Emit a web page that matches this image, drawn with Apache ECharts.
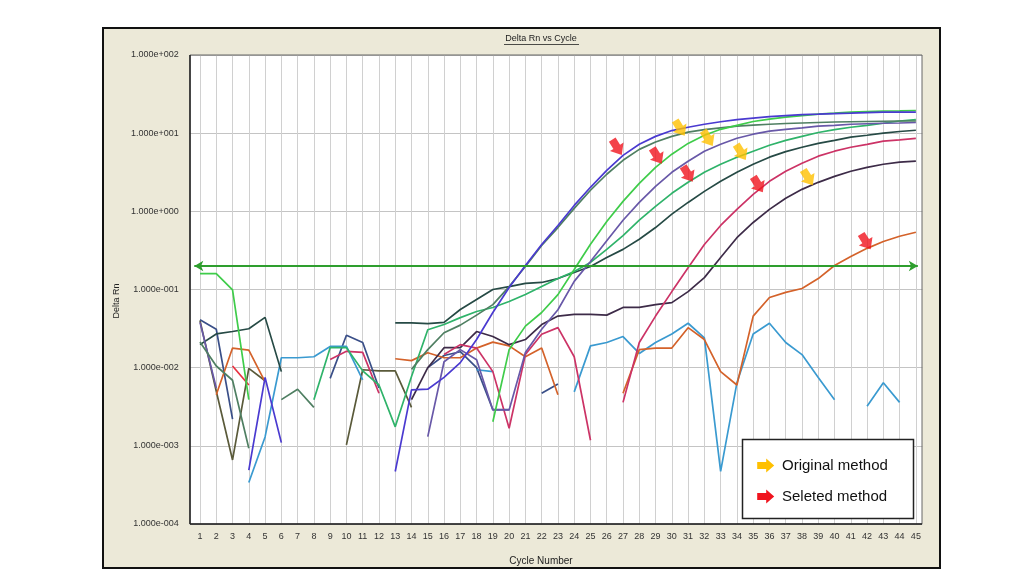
<!DOCTYPE html>
<html>
<head>
<meta charset="utf-8">
<script src="https://cdn.jsdelivr.net/npm/echarts@6/dist/echarts.min.js"></script>
<style>
html,body{margin:0;padding:0;background:#ffffff;}
#chart{width:1017px;height:577px;}
</style>
</head>
<body>
<div id="chart"></div>
<script>
// ---------------- DATA ----------------
const cycles = Array.from({length: 45}, (_, i) => i + 1);
const threshold = 0.2;
const yMin = 1e-4, yMax = 100;

const blueViolet = [null,null,null,0.00049,0.0075,0.0011,null,null,null,null,null,null,
  0.00047,0.0052,0.0053,0.0075,0.0116,0.0229,0.0508,0.106,0.203,0.377,0.66,1.19,2.03,3.35,5.2,7.2,9.1,10.8,
  11.9,13.0,14.0,14.9,15.6,16.3,16.8,17.3,17.5,17.8,18.0,18.3,18.6,18.6,18.6];
const grayGreen = [0.0213,0.0105,0.0069,0.00093,null,0.0039,0.0053,0.0031,null,null,null,null,null,
  0.0095,0.017,0.028,0.035,0.047,0.064,0.109,0.197,0.366,0.62,1.09,1.86,2.98,4.5,6.2,7.7,9.1,
  10.3,11.1,11.7,12.3,12.7,13.0,13.3,13.5,13.7,13.9,14.0,14.1,14.2,14.3,14.3];
const brightGreen = [0.16,0.16,0.099,0.0039,null,null,null,null,null,null,null,null,null,null,null,null,null,null,
  0.00203,0.017,0.034,0.0508,0.086,0.18,0.38,0.74,1.34,2.28,3.66,5.38,7.4,9.4,11.2,12.6,14.1,15.1,16.0,16.8,
  17.5,18.0,18.6,18.9,19.2,19.3,19.5];
const slatePurple = [0.038,0.0055,null,null,null,null,null,null,null,null,null,null,null,null,
  0.00131,0.0119,0.017,0.0126,0.00288,0.00288,0.0156,0.031,0.055,0.127,0.228,0.42,0.77,1.3,2.09,3.16,
  4.38,5.88,7.2,8.6,9.7,10.6,11.2,11.7,12.3,12.6,13.0,13.2,13.4,13.5,13.7];
const teal = [null,null,null,null,null,null,null,
  0.0039,0.018,0.018,0.0091,0.006,0.00175,0.0077,0.0306,0.0356,0.0437,0.0523,0.0588,0.0702,0.0862,0.109,
  0.138,0.17,0.222,0.326,0.49,0.77,1.16,1.7,2.35,3.16,4.0,4.93,5.88,7.0,8.1,9.1,10.2,11.1,11.9,12.6,13.4,14.3,14.9];
const darkSlate = [0.0197,0.027,0.029,0.0315,0.044,0.0089,null,null,null,null,null,null,
  0.0375,0.0375,0.0366,0.038,0.0555,0.0745,0.1,0.109,0.12,0.123,0.138,0.165,0.197,0.257,0.326,0.44,0.62,0.92,
  1.3,1.8,2.42,3.16,4.0,4.93,5.8,6.6,7.4,8.1,8.9,9.4,10.0,10.5,10.9];
const crimson = [null,null,null,null,null,null,null,null,
  0.0127,0.0162,0.0157,0.0047,null,null,null,
  0.0147,0.0197,0.0178,0.0089,0.00168,0.0147,0.0267,0.0325,0.0138,0.00118,null,
  0.0036,0.021,0.0457,0.094,0.19,0.377,0.66,1.06,1.65,2.42,3.26,4.13,5.08,5.88,6.6,7.2,7.9,8.2,8.6];
const darkPurple = [null,null,null,null,null,null,null,null,null,null,null,null,null,
  0.0039,0.01,0.018,0.018,0.029,0.025,0.0197,0.0229,0.0356,0.0457,0.048,0.048,0.047,0.059,0.059,0.064,0.068,
  0.094,0.142,0.257,0.46,0.72,1.06,1.47,1.91,2.35,2.8,3.26,3.65,4.0,4.25,4.4];
const orange = [null,0.0045,0.0178,0.0168,0.0066,null,null,null,null,null,null,null,
  0.013,0.0123,0.0155,0.0134,0.0134,0.0178,0.0212,0.019,0.0138,0.0178,0.0045,null,null,null,
  0.0047,0.017,0.0178,0.0178,0.0325,0.0229,0.0089,0.006,0.0457,0.079,0.092,0.103,0.138,0.203,0.265,0.336,0.412,0.48,0.54];
const lightBlue = [null,null,null,0.00034,0.0013,0.0134,0.0134,0.0138,0.0187,0.0187,0.007,
  null,null,null,null,null,null,0.0094,0.0089,null,null,null,null,
  0.0049,0.019,0.021,0.025,0.0152,0.021,0.027,0.037,0.024,0.00047,0.0064,0.027,0.037,0.021,0.0147,0.0075,0.0039,
  null,0.0032,0.0064,0.0036,null];
const navy = [0.041,0.031,0.0022,null,null,null,null,null,0.0073,0.026,0.021,0.0055,null,null,
  0.01,0.0143,0.016,0.01,0.0029,0.0029,null,0.0047,0.0062,
  null,null,null,null,null,null,null,null,null,null,null,null,null,null,null,null,null,null,null,null,null,null];
const olive = [0.04,0.005,0.00066,0.0098,0.0068,null,null,null,null,0.00103,0.0094,0.0091,0.0091,0.0031,
  null,null,null,null,null,null,null,null,null,null,null,null,null,null,null,null,null,null,null,null,null,null,
  null,null,null,null,null,null,null,null,null];
const red = [null,null,0.0105,0.006,null,null,null,null,null,null,null,null,null,null,null,null,null,null,null,null,
  null,null,null,null,null,null,null,null,null,null,null,null,null,null,null,null,null,null,null,null,null,null,null,null,null];

// annotation arrows [cycle, Delta Rn]
const redArrows = [[26.63, 6.6], [29.09, 5.1], [30.99, 3.0], [35.3, 2.2], [41.93, 0.41]];
const yellowArrows = [[30.5, 11.6], [32.22, 8.6], [34.25, 5.7], [38.37, 2.7]];
// threshold line extent (cycle units, just inside the plot frame)
const thresholdFrom = 0.65, thresholdTo = 45.12;

const seriesDefs = [
  ['red', red, '#E8303F'],
  ['olive', olive, '#5A5A3A'],
  ['navy', navy, '#3A4F88'],
  ['lightBlue', lightBlue, '#3A9AD0'],
  ['orange', orange, '#D4622A'],
  ['darkPurple', darkPurple, '#3D2B48'],
  ['crimson', crimson, '#CC3366'],
  ['darkSlate', darkSlate, '#264A45'],
  ['teal', teal, '#2FB36A'],
  ['slatePurple', slatePurple, '#6858A8'],
  ['grayGreen', grayGreen, '#4F7F62'],
  ['brightGreen', brightGreen, '#3FCC4A'],
  ['blueViolet', blueViolet, '#4A3AD0']
];

// ---------------- LAYOUT ----------------
const FONT = 'Liberation Sans, Arial, sans-serif';
const pxPerCycle = 16.27;
const gridLeft = 200 - pxPerCycle;
const gridWidth = 46 * pxPerCycle;
const frame = {x: 190, y: 55, w: 732, h: 469};

function pairs(arr) { return cycles.map((c, i) => [c, arr[i] == null ? '-' : arr[i]]); }
function expLabel(v) {
  const e = Math.round(Math.log10(v));
  const s = String(Math.abs(e)).padStart(3, '0');
  return '1.000e' + (e < 0 ? '-' : '+') + s;
}
const arrowPath = 'path://M0,2.8L5.2,2.8L5.2,0L11,5.5L5.2,11L5.2,8.2L0,8.2Z';

const series = seriesDefs.map(([name, arr, color]) => ({
  name, type: 'line', data: pairs(arr), symbol: 'none', showSymbol: false,
  connectNulls: false, lineStyle: {color, width: 1.7}, itemStyle: {color}, z: 3
}));
series.push({
  name: 'threshold', type: 'line', z: 4,
  data: [{value: [thresholdFrom, threshold], symbolRotate: 90}, {value: [thresholdTo, threshold], symbolRotate: -90}],
  symbol: 'arrow', symbolSize: [8, 9], showSymbol: true,
  lineStyle: {color: '#2E9E2E', width: 2}, itemStyle: {color: '#2E9E2E'}
});
series.push({
  name: 'selected', type: 'scatter', z: 6, data: redArrows, symbol: arrowPath,
  symbolSize: [18, 16], symbolRotate: -58, itemStyle: {color: '#F0141E'}
});
series.push({
  name: 'original', type: 'scatter', z: 6, data: yellowArrows, symbol: arrowPath,
  symbolSize: [18, 16], symbolRotate: -58, itemStyle: {color: '#FFC000'}
});

function legendArrow(cx, cy, color) {
  return {type: 'polygon', z: 71, shape: {points: [
    [cx - 8.5, cy - 3.5], [cx + 0.5, cy - 3.5], [cx + 0.5, cy - 7], [cx + 8.5, cy], [cx + 0.5, cy + 7], [cx + 0.5, cy + 3.5], [cx - 8.5, cy + 3.5]
  ]}, style: {fill: color}};
}

const option = {
  animation: false,
  backgroundColor: '#ffffff',
  grid: {left: gridLeft, width: gridWidth, top: frame.y, height: frame.h, containLabel: false},
  xAxis: {
    type: 'value', min: 0, max: 46, interval: 1,
    axisLine: {show: false}, axisTick: {show: false},
    axisLabel: {fontSize: 9, color: '#333', fontFamily: FONT, margin: 8,
      formatter: v => (v >= 1 && v <= 45) ? String(v) : ''},
    splitLine: {show: true, showMinLine: false, showMaxLine: false, lineStyle: {color: '#d0d0d0', width: 1}}
  },
  yAxis: {
    type: 'log', logBase: 10, min: yMin, max: yMax,
    axisLine: {show: false}, axisTick: {show: false},
    axisLabel: {fontSize: 9, color: '#333', fontFamily: FONT, margin: 5, formatter: expLabel},
    splitLine: {show: true, lineStyle: {color: '#c4c4c4', width: 1}}
  },
  series,
  graphic: [
    {type: 'rect', z: -20, shape: {x: 103, y: 28, width: 837, height: 540}, style: {fill: '#ECE9D8', stroke: '#111', lineWidth: 2}},
    {type: 'rect', z: -10, shape: {x: frame.x, y: frame.y, width: frame.w, height: frame.h}, style: {fill: '#ffffff'}},
    {type: 'rect', z: 50, shape: {x: 181, y: 50, width: frame.x - 181 - 0.5, height: 480}, style: {fill: '#ECE9D8'}},
    {type: 'rect', z: 50, shape: {x: frame.x + frame.w + 0.5, y: 50, width: 14, height: 480}, style: {fill: '#ECE9D8'}},
    {type: 'rect', z: 60, shape: {x: frame.x, y: frame.y, width: frame.w, height: frame.h}, style: {fill: null, stroke: '#666', lineWidth: 1}},
    {type: 'line', z: 61, shape: {x1: frame.x, y1: frame.y, x2: frame.x, y2: frame.y + frame.h}, style: {stroke: '#222', lineWidth: 1.5}},
    {type: 'line', z: 61, shape: {x1: frame.x, y1: frame.y + frame.h, x2: frame.x + frame.w, y2: frame.y + frame.h}, style: {stroke: '#222', lineWidth: 1.5}},
    {type: 'text', z: 61, x: 541, y: 39, style: {text: 'Delta Rn vs Cycle', font: '9px ' + FONT, fill: '#222', textAlign: 'center', textVerticalAlign: 'middle'}},
    {type: 'line', z: 61, shape: {x1: 504, y1: 44.5, x2: 579, y2: 44.5}, style: {stroke: '#222', lineWidth: 0.8}},
    {type: 'text', z: 61, x: 541, y: 561, style: {text: 'Cycle Number', font: '10px ' + FONT, fill: '#222', textAlign: 'center', textVerticalAlign: 'middle'}},
    {type: 'text', z: 61, x: 117, y: 301, rotation: Math.PI / 2, style: {text: 'Delta Rn', font: '9px ' + FONT, fill: '#222', textAlign: 'center', textVerticalAlign: 'middle'}},
    {type: 'rect', z: 70, shape: {x: 742.5, y: 439.5, width: 171, height: 79}, style: {fill: '#ffffff', stroke: '#222', lineWidth: 1.5}},
    legendArrow(765.7, 465.5, '#FFC000'),
    legendArrow(765.7, 496.5, '#F0141E'),
    {type: 'text', z: 71, x: 782, y: 465.5, style: {text: 'Original method', font: '15px ' + FONT, fill: '#111', textVerticalAlign: 'middle'}},
    {type: 'text', z: 71, x: 782, y: 497, style: {text: 'Seleted method', font: '15px ' + FONT, fill: '#111', textVerticalAlign: 'middle'}}
  ]
};

const chart = echarts.init(document.getElementById('chart'), null, {renderer: 'canvas'});
chart.setOption(option);
</script>
</body>
</html>
